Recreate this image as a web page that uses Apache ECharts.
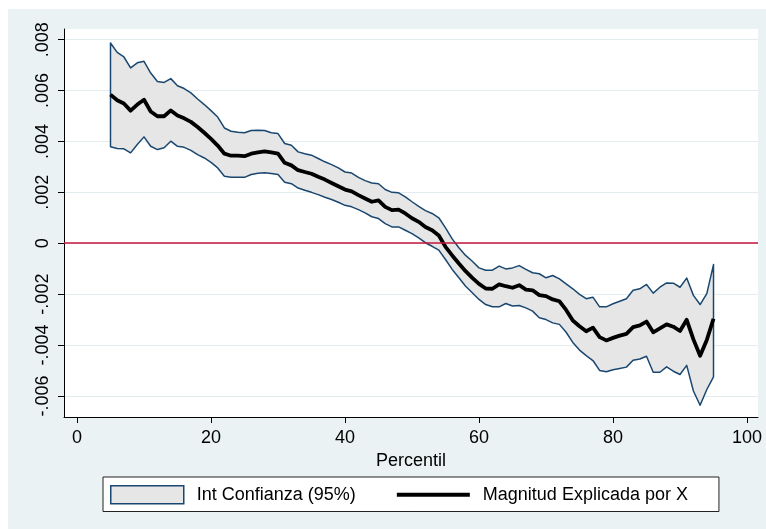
<!DOCTYPE html>
<html>
<head>
<meta charset="utf-8">
<script src="https://cdn.jsdelivr.net/npm/echarts@6/dist/echarts.min.js"></script>
<style>
html,body{margin:0;padding:0;background:#ffffff;}
#bg{position:absolute;left:8px;top:9px;width:758px;height:520px;background:#eaf2f3;}
#chart{position:absolute;left:0;top:0;width:766px;height:529px;}
</style>
</head>
<body>
<div id="bg"></div>
<div id="chart"></div>
<script>
var pct = [5,6,7,8,9,10,11,12,13,14,15,16,17,18,19,20,21,22,23,24,25,26,27,28,29,30,
  31,32,33,34,35,36,37,38,39,40,41,42,43,44,45,46,47,48,49,50,51,52,53,54,55,56,57,58,59,60,
  61,62,63,64,65,66,67,68,69,70,71,72,73,74,75,76,77,78,79,80,81,82,83,84,85,86,87,88,89,90,
  91,92,93,94,95];

var upperCI = [0.00787,0.00750,0.00732,0.00689,0.00709,0.00715,0.00669,0.00636,0.00632,0.00647,
  0.00619,0.00608,0.00591,0.00567,0.00545,0.00521,0.00496,0.00453,0.00440,0.00436,
  0.00434,0.00443,0.00444,0.00443,0.00434,0.00431,0.00392,0.00385,0.00359,0.00352,
  0.00346,0.00333,0.00320,0.00309,0.00296,0.00280,0.00276,0.00259,0.00246,0.00237,
  0.00234,0.00211,0.00200,0.00198,0.00182,0.00163,0.00145,0.00128,0.00117,0.00100,
  0.00060,0.00017,-0.00018,-0.00048,-0.00071,-0.00097,-0.00106,-0.00106,-0.00090,-0.00101,
  -0.00097,-0.00088,-0.00103,-0.00116,-0.00120,-0.00136,-0.00127,-0.00140,-0.00160,-0.00179,
  -0.00201,-0.00218,-0.00212,-0.00250,-0.00250,-0.00238,-0.00228,-0.00218,-0.00185,-0.00179,
  -0.00162,-0.00196,-0.00173,-0.00156,-0.00157,-0.00173,-0.00137,-0.00205,-0.00241,-0.00198,
  -0.00084];

var meanX = [0.00584,0.00562,0.00549,0.00521,0.00545,0.00564,0.00518,0.00499,0.00499,0.00522,
  0.00502,0.00491,0.00477,0.00457,0.00434,0.00410,0.00384,0.00352,0.00344,0.00344,
  0.00342,0.00352,0.00357,0.00361,0.00357,0.00352,0.00316,0.00306,0.00287,0.00280,
  0.00273,0.00261,0.00250,0.00237,0.00224,0.00211,0.00204,0.00189,0.00176,0.00163,
  0.00168,0.00143,0.00130,0.00132,0.00117,0.00098,0.00084,0.00064,0.00051,0.00030,
  -0.00014,-0.00048,-0.00080,-0.00110,-0.00136,-0.00160,-0.00178,-0.00179,-0.00162,-0.00169,
  -0.00175,-0.00165,-0.00182,-0.00185,-0.00204,-0.00208,-0.00221,-0.00228,-0.00262,-0.00304,
  -0.00326,-0.00346,-0.00332,-0.00369,-0.00382,-0.00372,-0.00363,-0.00356,-0.00330,-0.00323,
  -0.00308,-0.00350,-0.00335,-0.00319,-0.00328,-0.00345,-0.00301,-0.00378,-0.00442,-0.00380,
  -0.00297];

var lowerCI = [0.00379,0.00372,0.00371,0.00355,0.00388,0.00418,0.00381,0.00368,0.00375,0.00401,
  0.00381,0.00377,0.00365,0.00348,0.00335,0.00318,0.00296,0.00263,0.00259,0.00259,
  0.00259,0.00270,0.00275,0.00277,0.00274,0.00270,0.00240,0.00234,0.00217,0.00208,
  0.00200,0.00191,0.00181,0.00172,0.00161,0.00149,0.00143,0.00132,0.00119,0.00104,
  0.00097,0.00077,0.00064,0.00064,0.00051,0.00038,0.00021,0.00002,-0.00012,-0.00027,
  -0.00064,-0.00103,-0.00136,-0.00169,-0.00195,-0.00221,-0.00241,-0.00250,-0.00250,-0.00237,
  -0.00247,-0.00245,-0.00254,-0.00267,-0.00293,-0.00300,-0.00313,-0.00319,-0.00350,-0.00390,
  -0.00420,-0.00442,-0.00461,-0.00500,-0.00505,-0.00497,-0.00492,-0.00487,-0.00460,-0.00455,
  -0.00444,-0.00507,-0.00507,-0.00486,-0.00503,-0.00516,-0.00480,-0.00581,-0.00637,-0.00575,
  -0.00525];

var xTicks = [0,20,40,60,80,100];
var yTicks = [-0.006,-0.004,-0.002,0,0.002,0.004,0.006,0.008];
var yTickLabels = ['-.006','-.004','-.002','0','.002','.004','.006','.008'];

var FONT = '"Liberation Sans", Arial, sans-serif';

var chart = echarts.init(document.getElementById('chart'), null, {renderer:'canvas'});

var bandData = pct.map(function(p,i){ return [p, lowerCI[i], upperCI[i]]; });
var meanData = pct.map(function(p,i){ return [p, meanX[i]]; });

var option = {
  animation: false,
  textStyle: {fontFamily: FONT},
  grid: {left: 64, top: 29, width: 694, height: 388, show: true, backgroundColor: '#ffffff', borderWidth: 0},
  legend: {
    left: 103, top: 477,
    orient: 'horizontal',
    itemWidth: 73, itemHeight: 18, itemGap: 41,
    padding: [8, 31, 7, 7],
    backgroundColor: '#ffffff', borderColor: '#222222', borderWidth: 1,
    selectedMode: false,
    textStyle: {fontSize: 18, color: '#000000', fontFamily: FONT, padding: [0,0,0,8]},
    data: [
      {name: 'Int Confianza (95%)', icon: 'rect',
       itemStyle: {color: '#e6e6e6', borderColor: '#1a476f', borderWidth: 1.5}},
      {name: 'Magnitud Explicada por X', icon: 'path://M0,0H73V4H0Z',
       itemStyle: {color: '#000000', borderWidth: 0}}
    ]
  },
  xAxis: {
    type: 'value', min: -1.94, max: 101.64,
    name: 'Percentil', nameLocation: 'middle', nameGap: 27,
    nameTextStyle: {fontSize: 18, color: '#000000', fontFamily: FONT},
    axisLine: {show: true, onZero: false, lineStyle: {color: '#000000', width: 1}},
    axisTick: {show: true, customValues: xTicks, length: 6, lineStyle: {color: '#000000', width: 1}},
    axisLabel: {show: true, customValues: xTicks, fontSize: 18, color: '#000000', margin: 12, fontFamily: FONT},
    splitLine: {show: false}
  },
  yAxis: {
    type: 'value', min: -0.00683, max: 0.00842,
    axisLine: {show: true, onZero: false, lineStyle: {color: '#000000', width: 1}},
    axisTick: {show: true, customValues: yTicks, length: 6, lineStyle: {color: '#000000', width: 1}},
    axisLabel: {
      show: true, customValues: yTicks, rotate: 90, fontSize: 18, color: '#000000', margin: 12, fontFamily: FONT,
      formatter: function(v){
        for (var i = 0; i < yTicks.length; i++) { if (Math.abs(v - yTicks[i]) < 1e-9) return yTickLabels[i]; }
        return '';
      }
    },
    splitLine: {show: true, lineStyle: {color: '#e2ebee', width: 1.2}}
  },
  series: [
    {
      name: 'Int Confianza (95%)',
      type: 'custom',
      z: 2,
      data: bandData,
      encode: {x: 0, y: [1, 2]},
      itemStyle: {color: '#e6e6e6', borderColor: '#1a476f'},
      renderItem: function(params, api){
        if (params.dataIndex !== 0) return null;
        var pts = [];
        for (var i = 0; i < pct.length; i++) pts.push(api.coord([pct[i], upperCI[i]]));
        for (var j = pct.length - 1; j >= 0; j--) pts.push(api.coord([pct[j], lowerCI[j]]));
        return {type: 'polygon', shape: {points: pts},
                style: {fill: '#e6e6e6', stroke: '#1a476f', lineWidth: 1.5, lineJoin: 'round'}};
      }
    },
    {
      name: 'Magnitud Explicada por X',
      type: 'line',
      z: 3,
      data: meanData,
      symbol: 'none',
      lineStyle: {color: '#000000', width: 3.8, join: 'round'},
      itemStyle: {color: '#000000'},
      markLine: {
        silent: true,
        symbol: ['none', 'none'],
        label: {show: false},
        lineStyle: {color: '#c4153a', width: 1.5, type: 'solid'},
        data: [{yAxis: 0}]
      }
    }
  ]
};
chart.setOption(option);
</script>
</body>
</html>
